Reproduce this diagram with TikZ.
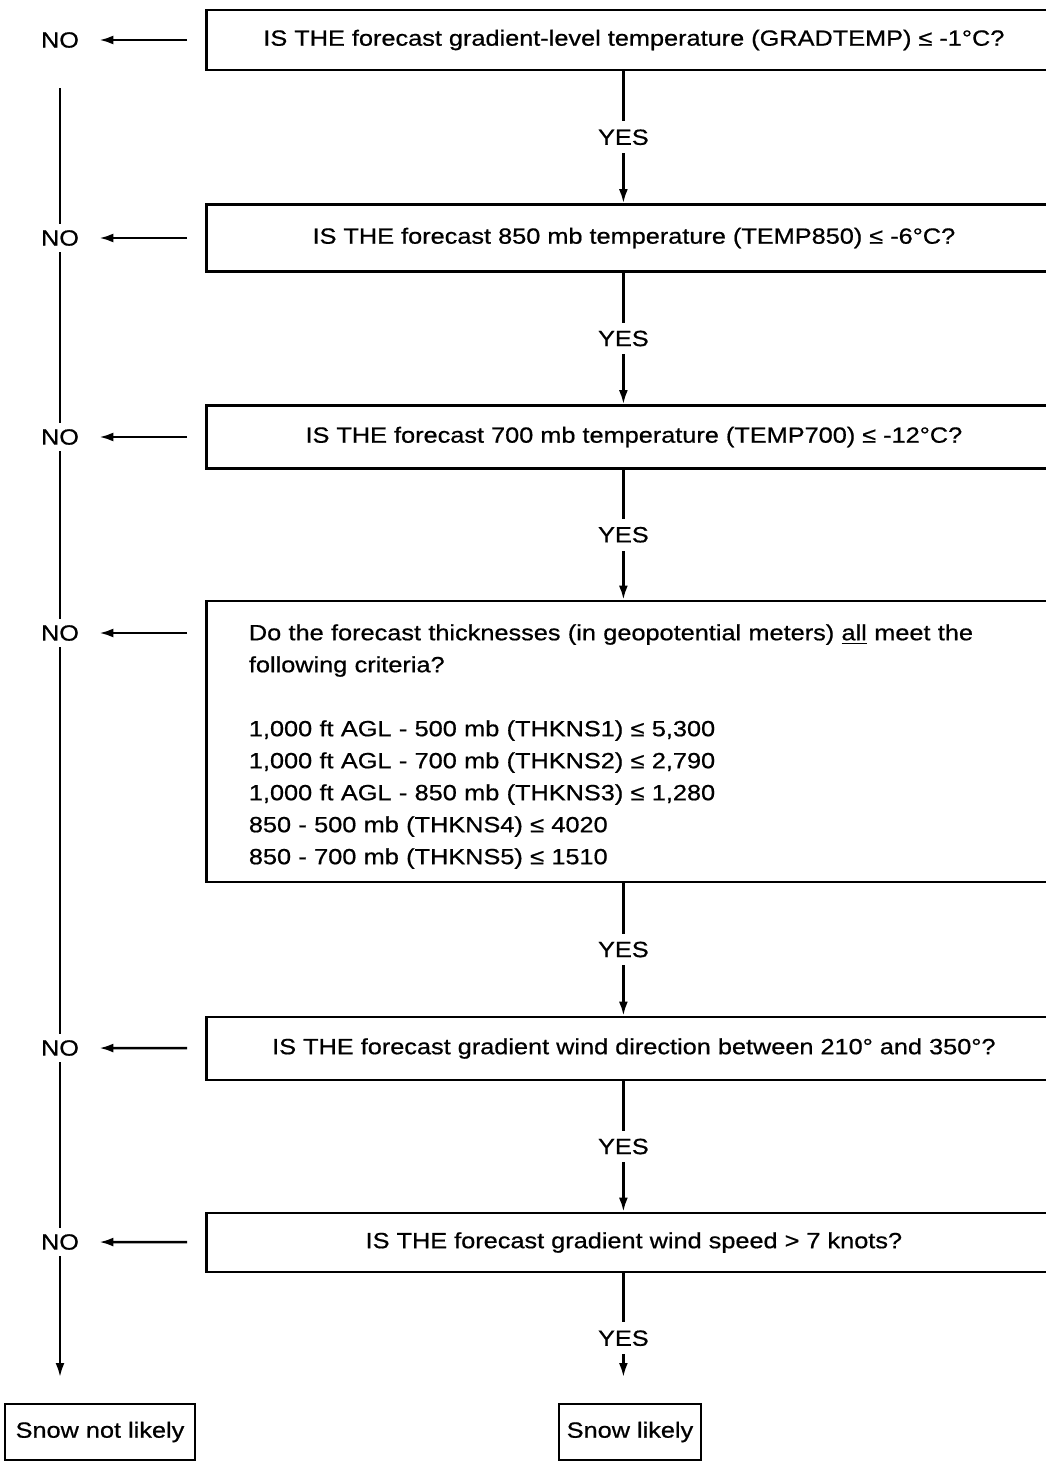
\documentclass[tikz,border=0pt]{standalone}
\usepackage{fontspec}
\setmainfont{Liberation Sans}[FakeStretch=1.15, UprightFeatures={FakeBold=0.7}]
\usetikzlibrary{arrows.meta}

\begin{document}
\begin{tikzpicture}[x=0.5pt, y=-0.5pt, font=\fontsize{11pt}{16pt}\selectfont,
    qbox/.style = {draw, line width=1.4pt, anchor=west, minimum width=427.5pt, inner sep=0pt},
    endbox/.style = {draw, line width=1pt, inner sep=1pt, minimum height=28pt},
    nolbl/.style = {inner sep=3pt},
    yeslbl/.style = {fill=white, inner sep=4pt},
    link/.style = {line width=1.2pt, -{Latex[length=7pt,width=4.5pt]}},
    spine/.style = {line width=1.2pt}]
    \useasboundingbox (0,0) rectangle (1045,1462);

    % questions
    \node[qbox, minimum height=30pt] (q1) at (205,40) {IS THE forecast gradient-level temperature (GRADTEMP) ≤ -1°C?};
    \node[qbox, minimum height=33.5pt] (q2) at (205,238) {IS THE forecast 850 mb temperature (TEMP850) ≤ -6°C?};
    \node[qbox, minimum height=31.5pt] (q3) at (205,437) {IS THE forecast 700 mb temperature (TEMP700) ≤ -12°C?};
    \node[qbox, minimum height=140.5pt, text width=385pt, align=left] (q4) at (205,741.5) {\rule{0pt}{13pt}Do the forecast thicknesses (in geopotential meters) \underline{all} meet the\\
        following criteria?\\[16pt]
        1,000 ft AGL - 500 mb (THKNS1) ≤ 5,300\\
        1,000 ft AGL - 700 mb (THKNS2) ≤ 2,790\\
        1,000 ft AGL - 850 mb (THKNS3) ≤ 1,280\\
        850 - 500 mb (THKNS4) ≤ 4020\\
        850 - 700 mb (THKNS5) ≤ 1510};
    \node[qbox, minimum height=31.5pt] (q5) at (205,1048.5) {IS THE forecast gradient wind direction between 210° and 350°?};
    \node[qbox, minimum height=29.5pt] (q6) at (205,1242.5) {IS THE forecast gradient wind speed > 7 knots?};

    % NO side
    \node[nolbl] (n1) at (60,40) {NO};
    \node[nolbl] (n2) at (60,238) {NO};
    \node[nolbl] (n3) at (60,437) {NO};
    \node[nolbl] (n4) at (60,633) {NO};
    \node[nolbl] (n5) at (60,1048) {NO};
    \node[nolbl] (n6) at (60,1242) {NO};

    % results
    \node[endbox, minimum width=95pt] (nlik) at (100,1432) {Snow not likely};
    \node[endbox, minimum width=71pt] (ylik) at (630,1432) {Snow likely};

    \foreach \i in {1,2,3,5,6}
        \draw[link, shorten <=9pt, shorten >=7pt] (q\i) -- (n\i);
    \draw[link, shorten <=9pt, shorten >=7pt] (q4.west |- n4) -- (n4);

    \draw[spine] ([yshift=-17pt]n1.south) -- (n2) -- (n3) -- (n4) -- (n5) -- (n6);
    \draw[link, shorten >=13pt] (n6) -- (n6 |- nlik.north);

    \foreach \a/\b in {q1/q2,q2/q3,q3/q4,q4/q5,q5/q6}
        \draw[link] ([xshift=-5.25pt]\a.south) -- node[yeslbl] {YES} ([xshift=-5.25pt]\b.north);
    \draw[link, shorten >=13pt] ([xshift=-5.25pt]q6.south) -- node[yeslbl] {YES} ([xshift=-5.25pt]q6.south |- ylik.north);
\end{tikzpicture}
\end{document}
